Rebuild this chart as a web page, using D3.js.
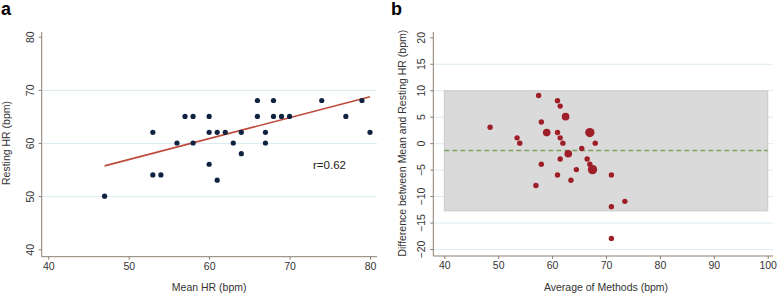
<!DOCTYPE html>
<html>
<head>
<meta charset="utf-8">
<script src="https://cdn.jsdelivr.net/npm/d3@7"></script>
<style>
  body { margin: 0; background: #fff; }
  svg { font-family: "Liberation Sans", Arial, sans-serif; }
  .tick text { fill: #333; font-size: 10.5px; }
  .axis path, .axis line { stroke: #8a7e72; }
  .grid line { stroke: #dcecf2; }
  .grid path { display: none; }
  .axis-label { fill: #333; font-size: 10.5px; text-anchor: middle; }
  .panel-label { font-size: 18px; font-weight: bold; fill: #000; }
</style>
</head>
<body>
<svg width="778" height="296"></svg>
<script>
// panel a: mean HR vs resting HR
var meanHR = [47, 53, 54, 53, 56, 57, 58, 58, 60, 60, 60, 61, 61, 62, 63, 64, 64, 66, 66, 67, 67, 68, 68, 69, 70, 74, 77, 79, 80];
var restHR = [50, 54, 54, 62, 60, 65, 65, 60, 65, 62, 56, 62, 53, 62, 60, 62, 58, 68, 65, 62, 60, 68, 65, 65, 65, 68, 65, 68, 62];
var fitLine = [[47, 55.7], [80, 68.7]];
var rText = 'r=0.62';

// panel b: Bland-Altman
var avgMethods = [48.5, 53.5, 54, 57.5, 58, 59, 61, 61.5, 62.5, 61, 61.5, 62, 67, 68, 65.5, 63, 61.5, 66.5, 58, 67, 67.5, 64.5, 61, 71, 63.5, 57, 73.5, 71, 71];
var diffHR     = [3, 1, 0, 9, 4, 2, 8, 7, 5, 2, 1, 0, 2, 0, -1, -2, -3, -3, -4, -4, -5, -5, -6, -6, -7, -8, -11, -12, -18];
var countB     = [1, 1, 1, 1, 1, 2, 1, 1, 2, 1, 1, 1, 3, 1, 1, 2, 1, 1, 1, 1, 3, 1, 1, 1, 1, 1, 1, 1, 1];
var meanDiff = -1.4, upperLoA = 9.9, lowerLoA = -12.8;

var ticksA = [40, 50, 60, 70, 80];
var ticksBx = [40, 50, 60, 70, 80, 90, 100];
var ticksBy = [-20, -15, -10, -5, 0, 5, 10, 15, 20];

var svg = d3.select('svg');

// ---- panel a ----
var xA = d3.scaleLinear().domain([40, 80]).range([48.3, 370]);
var yA = d3.scaleLinear().domain([40, 80]).range([249.3, 36.7]);
var gA = svg.append('g');
var leftA = 41.7, bottomA = 256.7, rightA = 377;

gA.append('g')
    .attr('class', 'grid')
    .attr('transform', 'translate(' + leftA + ',0)')
    .call(d3.axisLeft(yA).tickValues([50, 60, 70]).tickSize(-(rightA - leftA)).tickFormat(''));

var yAxisA = gA.append('g')
    .attr('class', 'axis')
    .attr('transform', 'translate(' + leftA + ',0)')
    .call(d3.axisLeft(yA).tickValues(ticksA).tickSize(3).tickSizeOuter(0));
yAxisA.select('.domain').attr('d', 'M0,32V' + bottomA);
yAxisA.selectAll('.tick text')
    .attr('transform', 'rotate(-90)')
    .attr('x', 0).attr('y', -8)
    .attr('dy', 0)
    .style('text-anchor', 'middle');

var xAxisA = gA.append('g')
    .attr('class', 'axis')
    .attr('transform', 'translate(0,' + bottomA + ')')
    .call(d3.axisBottom(xA).tickValues(ticksA).tickSize(3).tickSizeOuter(0));
xAxisA.select('.domain').attr('d', 'M' + leftA + ',0H' + rightA);
xAxisA.selectAll('.tick text').attr('y', 6);

gA.append('line')
    .attr('x1', xA(fitLine[0][0])).attr('y1', yA(fitLine[0][1]))
    .attr('x2', xA(fitLine[1][0])).attr('y2', yA(fitLine[1][1]))
    .attr('stroke', '#be4a3c').attr('stroke-width', 1.6);

gA.selectAll('.dotA')
    .data(meanHR)
    .enter()
    .append('circle')
    .attr('class', 'dotA')
    .attr('cx', function(d) { return xA(d); })
    .attr('cy', function(d, i) { return yA(restHR[i]); })
    .attr('r', 2.6)
    .attr('fill', '#0f2340');

gA.append('text')
    .attr('x', 313).attr('y', 169)
    .style('font-size', '11.5px').style('fill', '#222')
    .text(rText);

gA.append('text')
    .attr('class', 'axis-label')
    .attr('transform', 'translate(10,' + yA(60) + ') rotate(-90)')
    .text('Resting HR (bpm)');

gA.append('text')
    .attr('class', 'axis-label')
    .attr('x', xA(60)).attr('y', 291)
    .text('Mean HR (bpm)');

svg.append('text').attr('class', 'panel-label').attr('x', 1).attr('y', 15).text('a');

// ---- panel b ----
var xB = d3.scaleLinear().domain([40, 100]).range([444.3, 767.7]);
var yB = d3.scaleLinear().domain([-20, 20]).range([249, 37.3]);
var gB = svg.append('g');
var leftB = 433.3, bottomB = 256, rightB = 773;

gB.append('g')
    .attr('class', 'grid')
    .attr('transform', 'translate(' + leftB + ',0)')
    .call(d3.axisLeft(yB).tickValues([-20, -15, -10, -5, 0, 5, 10, 15]).tickSize(-(rightB - leftB)).tickFormat(''));

gB.append('rect')
    .attr('x', xB(40)).attr('width', xB(100) - xB(40))
    .attr('y', yB(upperLoA)).attr('height', yB(lowerLoA) - yB(upperLoA))
    .attr('fill', '#dadada').attr('stroke', '#cbcbcb').attr('stroke-width', 1);

gB.append('line')
    .attr('x1', xB(40)).attr('x2', xB(100))
    .attr('y1', yB(meanDiff)).attr('y2', yB(meanDiff))
    .attr('stroke', '#7ea05c').attr('stroke-width', 1.4)
    .attr('stroke-dasharray', '5,3');

var yAxisB = gB.append('g')
    .attr('class', 'axis')
    .attr('transform', 'translate(' + leftB + ',0)')
    .call(d3.axisLeft(yB).tickValues(ticksBy).tickSize(3).tickSizeOuter(0));
yAxisB.select('.domain').attr('d', 'M0,32V' + bottomB);
yAxisB.selectAll('.tick text')
    .attr('transform', 'rotate(-90)')
    .attr('x', 0).attr('y', -8)
    .attr('dy', 0)
    .style('text-anchor', 'middle');

var xAxisB = gB.append('g')
    .attr('class', 'axis')
    .attr('transform', 'translate(0,' + bottomB + ')')
    .call(d3.axisBottom(xB).tickValues(ticksBx).tickSize(3).tickSizeOuter(0));
xAxisB.select('.domain').attr('d', 'M' + leftB + ',0H' + rightB);
xAxisB.selectAll('.tick text').attr('y', 6);

gB.selectAll('.dotB')
    .data(avgMethods)
    .enter()
    .append('circle')
    .attr('class', 'dotB')
    .attr('cx', function(d) { return xB(d); })
    .attr('cy', function(d, i) { return yB(diffHR[i]); })
    .attr('r', function(d, i) { return 2.7 * Math.sqrt(countB[i]); })
    .attr('fill', '#9e1f27');

gB.append('text')
    .attr('class', 'axis-label')
    .attr('transform', 'translate(406,' + yB(0) + ') rotate(-90)')
    .text('Difference between Mean and Resting HR (bpm)');

gB.append('text')
    .attr('class', 'axis-label')
    .attr('x', xB(70)).attr('y', 291)
    .text('Average of Methods (bpm)');

svg.append('text').attr('class', 'panel-label').attr('x', 391).attr('y', 15).text('b');
</script>
</body>
</html>
